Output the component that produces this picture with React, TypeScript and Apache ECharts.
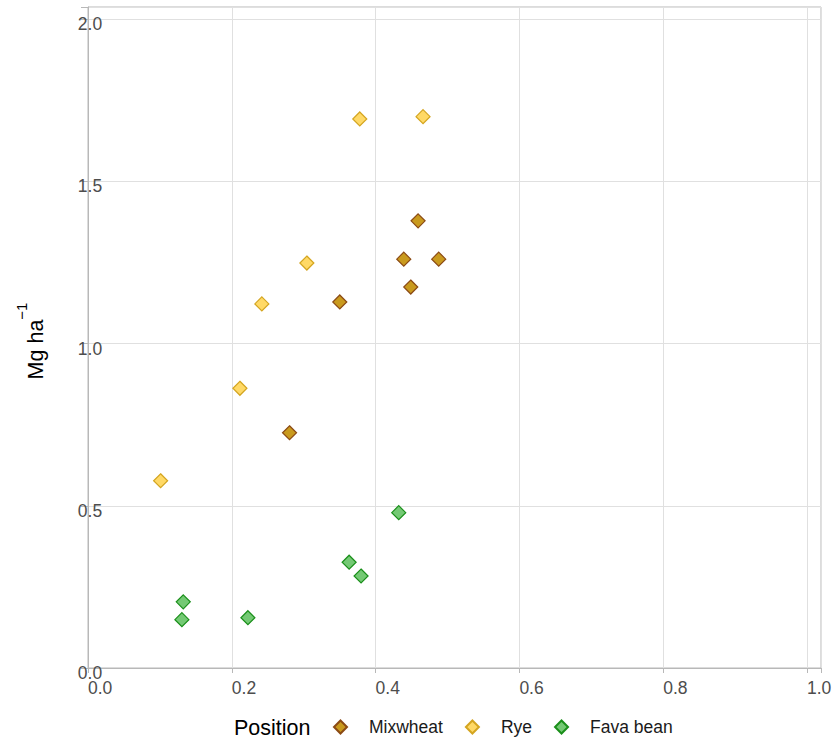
import React, { useEffect, useRef } from "react";
import * as echarts from "echarts";

const mixwheatX = [0.2803, 0.3502, 0.4392, 0.4591, 0.4489, 0.4878];
const mixwheatY = [0.725, 1.128, 1.26, 1.378, 1.174, 1.26];
const ryeX = [0.101, 0.2113, 0.2418, 0.3044, 0.378, 0.466];
const ryeY = [0.577, 0.862, 1.122, 1.248, 1.692, 1.699];
const favaX = [0.1325, 0.1306, 0.2224, 0.3632, 0.3798, 0.4322];
const favaY = [0.204, 0.149, 0.155, 0.326, 0.2835, 0.4786];

const seriesNames = ["Mixwheat", "Rye", "Fava bean"];
const legendTitle = "Position";
const yTitleMain = "Mg ha";
const yTitleSup = "\u22121";

const FONT = "'Liberation Sans', Arial, Helvetica, sans-serif";

const pairs = (xs: number[], ys: number[]) => xs.map((x, i) => [x, ys[i]]);

const fmt = (step: number) => (v: number) => {
  const k = v / step;
  return Math.abs(k - Math.round(k)) < 1e-6 ? v.toFixed(1) : "";
};

export default function App() {
  const ref = useRef<HTMLDivElement>(null);
  useEffect(() => {
    if (!ref.current) return;
    const chart = echarts.init(ref.current, null, { renderer: "svg" });
    const styles = [
      { color: "#c99a1e", borderColor: "#8b4a14" },
      { color: "#ffd966", borderColor: "#d4a520" },
      { color: "#74c974", borderColor: "#1a8f1a" },
    ];
    const data = [pairs(mixwheatX, mixwheatY), pairs(ryeX, ryeY), pairs(favaX, favaY)];
    chart.setOption({
      animation: false,
      backgroundColor: "#ffffff",
      textStyle: { fontFamily: FONT },
      grid: {
        left: 88,
        right: 15,
        top: 7,
        bottom: 74,
        show: true,
        borderColor: "#b8b8b8",
        borderWidth: 1,
        backgroundColor: "transparent",
        outerBoundsMode: "none",
      },
      xAxis: {
        type: "value",
        min: 0,
        max: 1.0195,
        interval: 0.2,
        axisLine: { show: true, lineStyle: { color: "#b8b8b8", width: 1 } },
        axisTick: { show: true, length: 5, lineStyle: { color: "#b8b8b8" } },
        splitLine: { show: true, lineStyle: { color: "#e0e0e0", width: 1 } },
        axisLabel: {
          formatter: fmt(0.2),
          align: "left",
          margin: 11,
          fontSize: 17.5,
          color: "#4d4d4d",
          fontFamily: FONT,
          showMaxLabel: true,
          hideOverlap: false,
        },
      },
      yAxis: {
        type: "value",
        min: 0,
        max: 2.037,
        interval: 0.5,
        axisLine: { show: true, lineStyle: { color: "#b8b8b8", width: 1 } },
        axisTick: { show: true, length: 7, lineStyle: { color: "#b8b8b8" } },
        splitLine: { show: true, lineStyle: { color: "#e0e0e0", width: 1 } },
        axisLabel: {
          formatter: fmt(0.5),
          align: "center",
          verticalAlign: "top",
          lineHeight: 10,
          margin: -2,
          fontSize: 17.5,
          color: "#4d4d4d",
          fontFamily: FONT,
          hideOverlap: false,
        },
      },
      legend: {
        orient: "horizontal",
        left: 328,
        top: 713,
        itemWidth: 13,
        itemHeight: 13,
        itemGap: 22,
        icon: "diamond",
        data: seriesNames,
        textStyle: {
          fontSize: 17.5,
          color: "#1a1a1a",
          fontFamily: FONT,
          padding: [0, 0, 0, 17],
        },
      },
      graphic: [
        {
          type: "text",
          left: 234,
          top: 717,
          style: {
            text: legendTitle,
            fontSize: 21.5,
            fill: "#000000",
            fontFamily: FONT,
          },
        },
        {
          type: "text",
          x: 35.5,
          y: 341,
          rotation: Math.PI / 2,
          style: {
            text: "{a|" + yTitleMain + "}{b|" + yTitleSup + "}",
            align: "center",
            verticalAlign: "middle",
            fontFamily: FONT,
            rich: {
              a: { fontSize: 21.5, lineHeight: 44, fill: "#000000", fontFamily: FONT },
              b: { fontSize: 15, lineHeight: 16, verticalAlign: "top", fill: "#000000", fontFamily: FONT },
            },
          },
        },
      ],
      series: seriesNames.map((name, i) => ({
        name,
        type: "scatter",
        symbol: "diamond",
        symbolSize: 14,
        data: data[i],
        itemStyle: { color: styles[i].color, borderColor: styles[i].borderColor, borderWidth: 1.2, opacity: 1 },
        emphasis: { disabled: true },
      })),
    });
    return () => chart.dispose();
  }, []);
  return <div ref={ref} style={{ width: 836, height: 742, position: "absolute", left: 0, top: 0 }} />;
}
